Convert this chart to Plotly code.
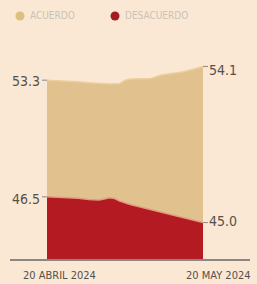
import plotly.graph_objects as go
import pandas as pd

# ---- data ----
day_offsets = [0, 2, 4, 6, 8, 10, 12, 14, 15, 16, 18, 20, 22, 24, 26, 28, 30]
acuerdo = [53.3, 53.28, 53.25, 53.2, 53.15, 53.12, 53.08, 53.1, 53.3, 53.37,
           53.38, 53.4, 53.6, 53.68, 53.78, 53.92, 54.1]
red_offsets = [0, 2, 4, 6, 8, 10, 11, 12, 13, 14, 16, 18, 20, 22, 24, 26, 28, 30]
desacuerdo = [46.5, 46.48, 46.45, 46.42, 46.35, 46.32, 46.38, 46.44, 46.4, 46.25,
              46.05, 45.9, 45.75, 45.6, 45.45, 45.3, 45.15, 45.0]
start_label = "20 ABRIL 2024"
end_label = "20 MAY 2024"
legend_labels = ["ACUERDO", "DESACUERDO"]

start = pd.Timestamp("2024-04-20")
x_a = [start + pd.Timedelta(days=d) for d in day_offsets]
x_d = [start + pd.Timedelta(days=d) for d in red_offsets]

BG = "#fbe8d4"
YEL = "#e1c28e"
RED = "#b41a21"
TXT = "#55504b"
FONT = "DejaVu Sans Condensed, Liberation Sans Narrow, Arial Narrow, sans-serif"

fig = go.Figure()
fig.add_trace(go.Scatter(x=x_a, y=acuerdo, mode="lines", fill="tozeroy",
                         fillcolor=YEL, line=dict(color="#eccf9f", width=1.5),
                         hoverinfo="skip", showlegend=False))
fig.add_trace(go.Scatter(x=x_d, y=desacuerdo, mode="lines", fill="tozeroy",
                         fillcolor=RED, line=dict(color="#e39a80", width=1.5),
                         hoverinfo="skip", showlegend=False))

W, H = 257, 284
L, R, T, B = 47, 54, 40, 24
pw, ph = W - L - R, H - T - B

def px(xp):
    return (xp - L) / pw

def py(yp):
    return (H - B - yp) / ph

shapes = []
annotations = []

# baseline
shapes.append(dict(type="line", xref="paper", yref="paper", x0=px(10), x1=px(250),
                   y0=0, y1=0, line=dict(color="#8c8782", width=2)))

# value labels + ticks
vals = [(acuerdo[0], "left", 0), (desacuerdo[0], "left", -1),
        (acuerdo[-1], "right", -4), (desacuerdo[-1], "right", 2)]
for v, side, ys in vals:
    if side == "left":
        shapes.append(dict(type="line", xref="paper", yref="y", x0=px(42), x1=0,
                           y0=v, y1=v, line=dict(color="#8c8782", width=1)))
        annotations.append(dict(x=px(42), y=v, xref="paper", yref="y", text=f"{v:.1f}",
                                showarrow=False, xanchor="right", yanchor="middle",
                                yshift=ys - 1, font=dict(family=FONT, size=14, color=TXT)))
    else:
        shapes.append(dict(type="line", xref="paper", yref="y", x0=1, x1=px(208),
                           y0=v, y1=v, line=dict(color="#8c8782", width=1)))
        annotations.append(dict(x=px(207), y=v, xref="paper", yref="y", text=f"{v:.1f}",
                                showarrow=False, xanchor="left", yanchor="middle",
                                yshift=ys, font=dict(family=FONT, size=14, color=TXT)))

# x labels
annotations.append(dict(x=px(59), y=py(275), xref="paper", yref="paper", text=start_label,
                        showarrow=False, xanchor="center", yanchor="middle",
                        font=dict(family=FONT, size=11, color=TXT)))
annotations.append(dict(x=px(218), y=py(275), xref="paper", yref="paper", text=end_label,
                        showarrow=False, xanchor="center", yanchor="middle",
                        font=dict(family=FONT, size=11, color=TXT)))

# legend
for cx, tx, col, lab in [(20, 28, "#d9c17e", legend_labels[0]), (115, 123, "#a51b22", legend_labels[1])]:
    shapes.append(dict(type="circle", xref="paper", yref="paper", xsizemode="pixel",
                       ysizemode="pixel", xanchor=px(cx), yanchor=py(16),
                       x0=-4.5, x1=4.5, y0=-4.5, y1=4.5, fillcolor=col, line=dict(width=0)))
    annotations.append(dict(x=px(tx), y=py(16), xref="paper", yref="paper", text=lab,
                            showarrow=False, xanchor="left", yanchor="middle",
                            font=dict(family=FONT, size=10, color="#c9c2b8")))

fig.update_layout(
    width=W, height=H,
    margin=dict(l=L, r=R, t=T, b=B, pad=0),
    paper_bgcolor=BG, plot_bgcolor=BG,
    xaxis=dict(range=[x_a[0], x_a[-1]], visible=False, fixedrange=True),
    yaxis=dict(range=[42.82, 55.64], visible=False, fixedrange=True),
    shapes=shapes, annotations=annotations, showlegend=False,
)

fig.write_html("out.html", config={"displayModeBar": False},
               post_script="document.body.style.margin='0';document.body.style.overflow='hidden';"
                           "document.body.style.background='" + BG + "';")
